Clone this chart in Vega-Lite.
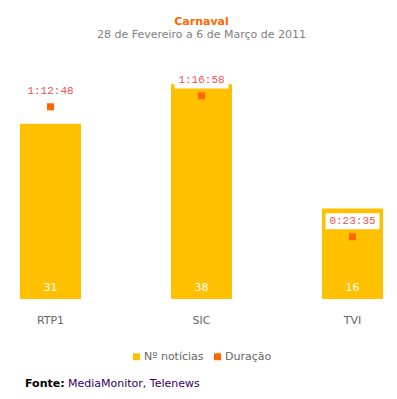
{
  "$schema": "https://vega.github.io/schema/vega-lite/v6.json",
  "padding": {"left": 5, "top": 16, "right": 0, "bottom": 0},
  "config": {
    "view": {"stroke": null},
    "font": "DejaVu Sans",
    "legend": {"layout": {"bottom": {"anchor": "middle"}}}
  },
  "title": {"text": "Fonte:", "orient": "bottom", "anchor": "start", "fontSize": 11, "fontWeight": "bold", "color": "#000000", "font": "DejaVu Sans", "dx": 20, "dy": -11, "offset": 0},
  "resolve": {"scale": {"color": "independent"}, "legend": {"color": "independent"}},
  "vconcat": [
    {
      "title": {"text": "MediaMonitor, Telenews", "orient": "bottom", "anchor": "start", "fontSize": 11, "fontWeight": "normal", "color": "#330066", "font": "DejaVu Sans", "dx": 63, "offset": 16},
      "resolve": {"scale": {"color": "independent"}, "legend": {"color": "independent"}},
      "vconcat": [
        {
          "width": 393,
          "height": 226,
          "title": {"text": "Carnaval", "subtitle": "28 de Fevereiro a 6 de Março de 2011", "anchor": "middle", "fontSize": 11, "fontWeight": "bold", "color": "#ff6600", "font": "DejaVu Sans", "subtitleFont": "DejaVu Sans", "subtitleColor": "#808080", "subtitleFontSize": 11, "subtitlePadding": 2, "offset": 32},
          "data": {"values": [
            {"canal": "RTP1", "noticias": 31, "duracao_s": 4368, "duracao": "1:12:48"},
            {"canal": "SIC", "noticias": 38, "duracao_s": 4618, "duracao": "1:16:58"},
            {"canal": "TVI", "noticias": 16, "duracao_s": 1415, "duracao": "0:23:35"}
          ]},
          "encoding": {
            "x": {"field": "canal", "type": "nominal", "sort": null,
              "scale": {"paddingInner": 0.596, "paddingOuter": 0.0993},
              "axis": {"title": null, "domain": false, "ticks": false, "labelPadding": 15, "labelFontSize": 11, "labelColor": "#666666", "labelAngle": 0, "labelFont": "DejaVu Sans"}}
          },
          "layer": [
            {
              "mark": {"type": "bar"},
              "encoding": {
                "y": {"field": "noticias", "type": "quantitative", "scale": {"domain": [0, 40]}, "axis": null},
                "color": {"datum": "Nº notícias", "type": "nominal",
                  "scale": {"domain": ["Nº notícias", "Duração"], "range": ["#ffc000", "#ff6600"]},
                  "legend": {"orient": "bottom", "direction": "horizontal", "title": null, "symbolType": "square", "symbolSize": 49, "symbolStrokeWidth": 0, "labelFontSize": 11, "labelColor": "#666666", "labelFont": "DejaVu Sans", "offset": 26, "columnPadding": 8, "labelOffset": 2}}
              }
            },
            {
              "mark": {"type": "text", "color": "#ffffff", "dy": -11, "fontSize": 11, "font": "DejaVu Sans"},
              "encoding": {
                "y": {"datum": 0, "type": "quantitative", "scale": {"domain": [0, 40]}, "axis": null},
                "text": {"field": "noticias", "type": "quantitative"}
              }
            },
            {
              "mark": {"type": "point", "shape": "M-1,-0.3H1V0.3H-1Z", "filled": true, "color": "#ffffff", "opacity": 1, "size": 2916, "yOffset": -15.5},
              "encoding": {
                "y": {"field": "duracao_s", "type": "quantitative", "scale": {"domain": [0, 5136]}, "axis": null}
              }
            },
            {
              "mark": {"type": "text", "font": "Liberation Mono", "fontSize": 11, "color": "#f05050", "dy": -15.5},
              "encoding": {
                "y": {"field": "duracao_s", "type": "quantitative", "scale": {"domain": [0, 5136]}, "axis": null},
                "text": {"field": "duracao", "type": "nominal"}
              }
            },
            {
              "mark": {"type": "point", "shape": "square", "filled": true, "opacity": 1, "size": 49},
              "encoding": {
                "y": {"field": "duracao_s", "type": "quantitative", "scale": {"domain": [0, 5136]}, "axis": null},
                "color": {"datum": "Duração", "type": "nominal"}
              }
            }
          ],
          "resolve": {"scale": {"y": "independent"}}
        }
      ]
    }
  ]
}
